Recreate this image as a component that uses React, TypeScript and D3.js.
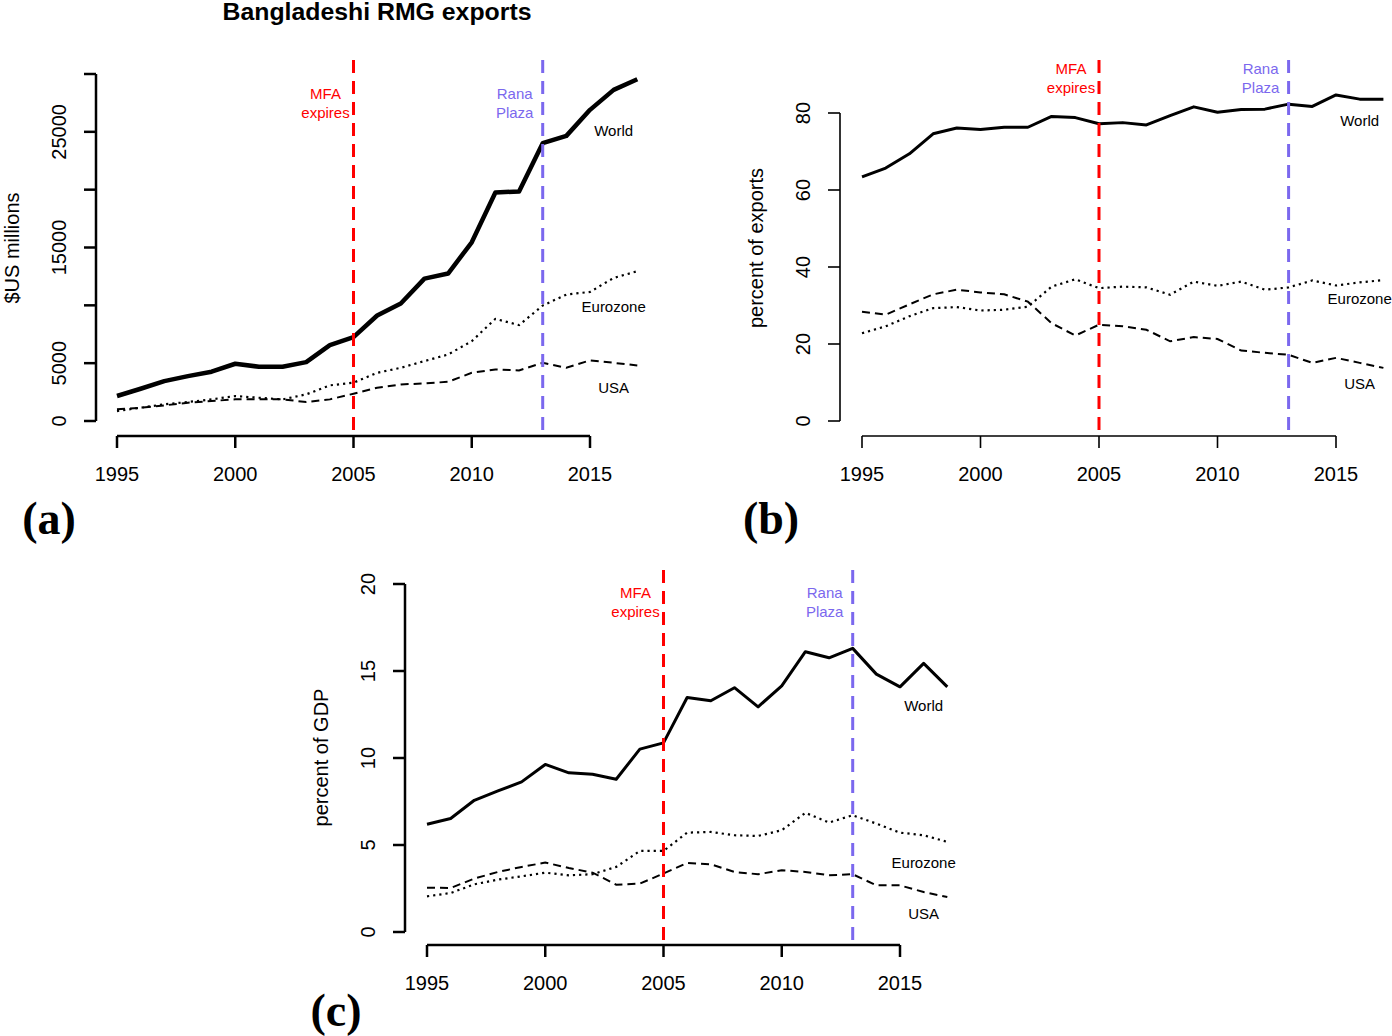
import * as d3 from "d3";

// ---- data ----
const years = [
  1995, 1996, 1997, 1998, 1999, 2000, 2001, 2002, 2003, 2004, 2005, 2006,
  2007, 2008, 2009, 2010, 2011, 2012, 2013, 2014, 2015, 2016, 2017,
];
const yearTicks = [1995, 2000, 2005, 2010, 2015];

// (a) $US millions
const worldUsd = [2160, 2790, 3450, 3880, 4260, 4950, 4690, 4690, 5090, 6560, 7250, 9120, 10160, 12310, 12750, 15450, 19760, 19850, 24020, 24650, 26900, 28630, 29550];
const euroUsd = [860, 1150, 1440, 1640, 1870, 2160, 2010, 1870, 2300, 3080, 3310, 4170, 4600, 5180, 5750, 6900, 8830, 8290, 9980, 10930, 11160, 12370, 12950];
const usaUsd = [1010, 1150, 1350, 1580, 1730, 1870, 1870, 1870, 1640, 1870, 2360, 2880, 3160, 3250, 3390, 4170, 4460, 4370, 5030, 4600, 5240, 5030, 4800];

// (b) percent of exports
const worldShare = [63.4, 65.7, 69.4, 74.6, 76.1, 75.7, 76.3, 76.3, 79.1, 78.8, 77.2, 77.5, 76.9, 79.3, 81.6, 80.2, 80.9, 81.0, 82.3, 81.7, 84.7, 83.6, 83.6];
const euroShare = [22.8, 24.6, 27.2, 29.3, 29.6, 28.7, 28.9, 29.7, 34.9, 36.8, 34.5, 34.9, 34.7, 32.8, 36.2, 35.1, 36.2, 34.1, 34.7, 36.5, 35.2, 36.0, 36.6];
const usaShare = [28.4, 27.6, 30.3, 32.9, 34.1, 33.4, 32.9, 31.0, 25.4, 22.2, 25.0, 24.6, 23.7, 20.7, 21.8, 21.3, 18.3, 17.7, 17.2, 15.1, 16.4, 15.1, 13.8];

// (c) percent of GDP
const worldGdp = [6.19, 6.52, 7.57, 8.11, 8.63, 9.63, 9.15, 9.07, 8.78, 10.51, 10.87, 13.48, 13.29, 14.04, 12.94, 14.15, 16.11, 15.76, 16.3, 14.82, 14.09, 15.44, 14.09];
const euroGdp = [2.05, 2.24, 2.74, 3.01, 3.2, 3.41, 3.26, 3.32, 3.74, 4.66, 4.66, 5.71, 5.75, 5.56, 5.52, 5.85, 6.85, 6.29, 6.71, 6.23, 5.71, 5.56, 5.18];
const usaGdp = [2.55, 2.53, 3.07, 3.45, 3.74, 3.99, 3.68, 3.41, 2.72, 2.78, 3.36, 3.97, 3.89, 3.45, 3.32, 3.55, 3.45, 3.26, 3.32, 2.68, 2.68, 2.3, 2.01];

const events = [
  { year: 2005, text: ["MFA", "expires"], color: "#ff0000" },
  { year: 2013, text: ["Rana", "Plaza"], color: "#7b68ee" },
];

const SANS = "'Liberation Sans', Arial, Helvetica, sans-serif";
const SERIF = "'Liberation Serif', 'Times New Roman', serif";

interface PanelSpec {
  letter: string;
  letterX: number;
  letterY: number;
  x0: number; // pixel of 1995
  x1: number; // pixel of 2015
  axisX: number; // x of the y-axis line
  axisY: number; // y of the x-axis line
  top: number; // top of the plot region
  yZero: number;
  yMaxPx: number;
  yMax: number;
  yTicks: number[];
  yTickLabels: number[];
  yTitle: string;
  axisWidth: number;
  worldWidth: number;
  world: number[];
  euro: number[];
  usa: number[];
  labelY: [number, number, number]; // World, Eurozone, USA in data units
  noteY: number; // baseline of the event note, data units
}

const panels: PanelSpec[] = [
  {
    letter: "(a)", letterX: 49, letterY: 534,
    x0: 117, x1: 590, axisX: 96, axisY: 436, top: 60,
    yZero: 421, yMaxPx: 74, yMax: 30000,
    yTicks: [0, 5000, 10000, 15000, 20000, 25000, 30000],
    yTickLabels: [0, 5000, 15000, 25000],
    yTitle: "$US millions", axisWidth: 2.5, worldWidth: 4.5,
    world: worldUsd, euro: euroUsd, usa: usaUsd,
    labelY: [24600, 9400, 2400], noteY: 27840,
  },
  {
    letter: "(b)", letterX: 771, letterY: 534,
    x0: 862, x1: 1336, axisX: 840, axisY: 436, top: 60,
    yZero: 421, yMaxPx: 113, yMax: 80,
    yTicks: [0, 20, 40, 60, 80],
    yTickLabels: [0, 20, 40, 60, 80],
    yTitle: "percent of exports", axisWidth: 1.6, worldWidth: 3,
    world: worldShare, euro: euroShare, usa: usaShare,
    labelY: [76.6, 30.5, 8.3], noteY: 90.1,
  },
  {
    letter: "(c)", letterX: 336, letterY: 1026,
    x0: 427, x1: 900, axisX: 405, axisY: 945, top: 570,
    yZero: 932, yMaxPx: 584, yMax: 20,
    yTicks: [0, 5, 10, 15, 20],
    yTickLabels: [0, 5, 10, 15, 20],
    yTitle: "percent of GDP", axisWidth: 2.5, worldWidth: 3,
    world: worldGdp, euro: euroGdp, usa: usaGdp,
    labelY: [12.7, 3.7, 0.72], noteY: 19.2,
  },
];

function Panel({ p }: { p: PanelSpec }) {
  const x = d3.scaleLinear().domain([1995, 2015]).range([p.x0, p.x1]);
  const y = d3.scaleLinear().domain([0, p.yMax]).range([p.yZero, p.yMaxPx]);
  const line = d3
    .line<number>()
    .x((_, i) => x(years[i]))
    .y((d) => y(d));
  const midY = (p.top + p.axisY) / 2;
  const names = ["World", "Eurozone", "USA"];

  return (
    <g>
      {/* y axis */}
      <line x1={p.axisX} x2={p.axisX} y1={y(0)} y2={y(p.yMax)} stroke="#000" strokeWidth={p.axisWidth} />
      {p.yTicks.map((t) => (
        <line key={t} x1={p.axisX - 12} x2={p.axisX} y1={y(t)} y2={y(t)} stroke="#000" strokeWidth={p.axisWidth} />
      ))}
      {p.yTickLabels.map((t) => (
        <text
          key={t}
          transform={`translate(${p.axisX - 30},${y(t)}) rotate(-90)`}
          textAnchor="middle"
          fontSize={20}
          fontFamily={SANS}
        >
          {t}
        </text>
      ))}
      <text
        transform={`translate(${p.axisX - 77},${midY}) rotate(-90)`}
        textAnchor="middle"
        fontSize={20}
        fontFamily={SANS}
      >
        {p.yTitle}
      </text>

      {/* x axis */}
      <line x1={x(1995)} x2={x(2015)} y1={p.axisY} y2={p.axisY} stroke="#000" strokeWidth={p.axisWidth} />
      {yearTicks.map((t) => (
        <g key={t}>
          <line x1={x(t)} x2={x(t)} y1={p.axisY} y2={p.axisY + 12} stroke="#000" strokeWidth={p.axisWidth} />
          <text x={x(t)} y={p.axisY + 45} textAnchor="middle" fontSize={20} fontFamily={SANS}>
            {t}
          </text>
        </g>
      ))}

      {/* series */}
      <path d={line(p.usa) ?? ""} fill="none" stroke="#000" strokeWidth={2} strokeDasharray="8 5" />
      <path d={line(p.euro) ?? ""} fill="none" stroke="#000" strokeWidth={2.2} strokeDasharray="2.2 4" />
      <path d={line(p.world) ?? ""} fill="none" stroke="#000" strokeWidth={p.worldWidth} strokeLinejoin="round" />

      {/* event lines */}
      {events.map((e) => (
        <g key={e.year}>
          <line
            x1={x(e.year)}
            x2={x(e.year)}
            y1={p.top}
            y2={p.axisY}
            stroke={e.color}
            strokeWidth={3}
            strokeDasharray="13 8"
          />
          {e.text.map((s, i) => (
            <text
              key={s}
              x={x(e.year) - 28}
              y={y(p.noteY) + i * 19}
              textAnchor="middle"
              fontSize={15}
              fontFamily={SANS}
              fill={e.color}
            >
              {s}
            </text>
          ))}
        </g>
      ))}

      {/* series labels */}
      {names.map((n, i) => (
        <text key={n} x={x(2016)} y={y(p.labelY[i])} textAnchor="middle" fontSize={15} fontFamily={SANS}>
          {n}
        </text>
      ))}

      <text x={p.letterX} y={p.letterY} textAnchor="middle" fontSize={46} fontWeight="bold" fontFamily={SERIF}>
        {p.letter}
      </text>
    </g>
  );
}

export default function App() {
  return (
    <svg
      width={1392}
      height={1036}
      style={{ position: "absolute", left: 0, top: 0, background: "#fff" }}
    >
      <rect width={1392} height={1036} fill="#fff" />
      <text
        x={377}
        y={19.5}
        textAnchor="middle"
        fontSize={23}
        fontWeight="bold"
        fontFamily={SANS}
        textLength={309}
        lengthAdjust="spacingAndGlyphs"
      >
        Bangladeshi RMG exports
      </text>
      {panels.map((p) => (
        <Panel key={p.letter} p={p} />
      ))}
    </svg>
  );
}
